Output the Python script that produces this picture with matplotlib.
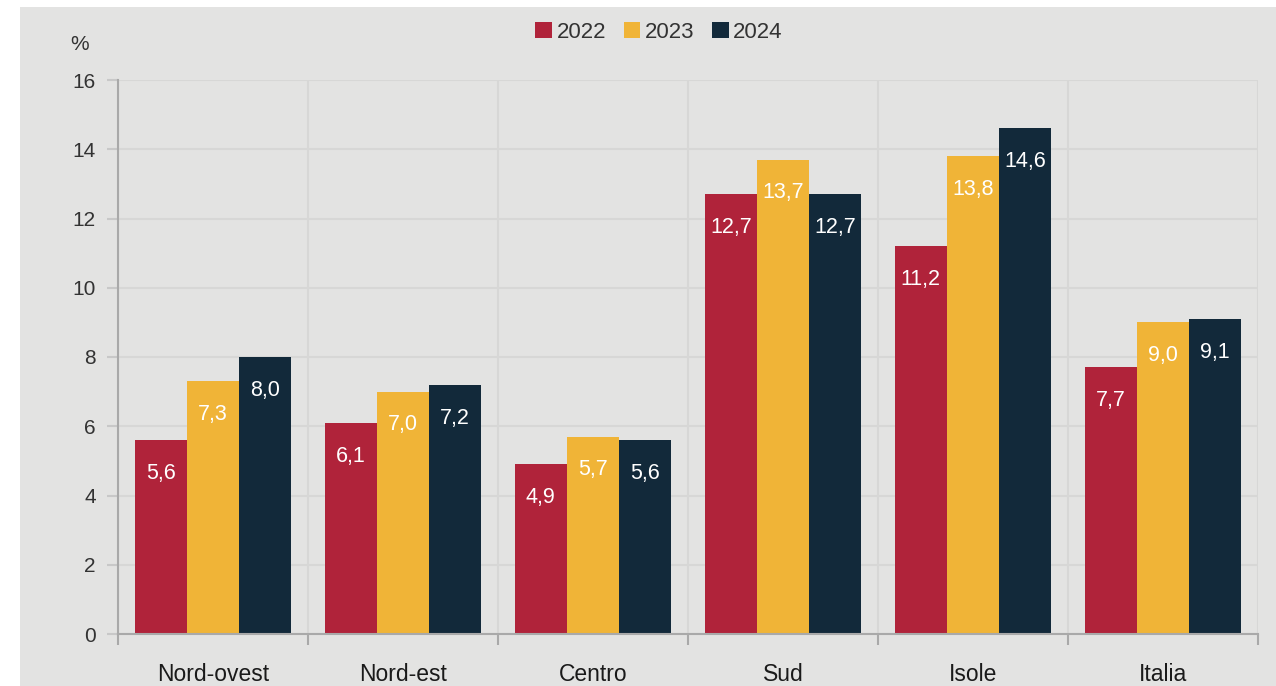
import matplotlib
matplotlib.use("Agg")
import matplotlib.pyplot as plt
import numpy as np
from matplotlib.patches import Rectangle

plt.rcParams['font.family'] = ['Liberation Sans', 'DejaVu Sans']

categories = ["Nord-ovest", "Nord-est", "Centro", "Sud", "Isole", "Italia"]
years = ["2022", "2023", "2024"]
v2022 = [5.6, 6.1, 4.9, 12.7, 11.2, 7.7]
v2023 = [7.3, 7.0, 5.7, 13.7, 13.8, 9.0]
v2024 = [8.0, 7.2, 5.6, 12.7, 14.6, 9.1]
series = [v2022, v2023, v2024]
colors = ["#b0233a", "#f0b437", "#12293a"]
yticks = [0, 2, 4, 6, 8, 10, 12, 14, 16]

W, H = 1276, 686
fig = plt.figure(figsize=(W / 100, H / 100), dpi=100, facecolor="white")
bg = Rectangle((20 / W, 0), 1 - 20 / W, 1 - 7 / H, transform=fig.transFigure,
               facecolor="#e3e3e2", edgecolor="none", zorder=-10)
fig.add_artist(bg)
ax = fig.add_axes([118 / W, 1 - 634 / H, (1258 - 118) / W, (634 - 80) / H])
ax.set_facecolor("#e3e3e2")

x = np.arange(len(categories))
bw = 0.275
for i, (vals, c) in enumerate(zip(series, colors)):
    pos = x + (i - 1) * bw
    bars = ax.bar(pos, vals, width=bw, color=c, edgecolor="none", zorder=3, label=years[i])
    for b, v in zip(bars, vals):
        ax.annotate(f"{v:.1f}".replace(".", ","), (b.get_x() + b.get_width() / 2, v),
                    xytext=(0, -24), textcoords="offset points", ha="center", va="center",
                    color="white", fontsize=15.5, zorder=4)

ax.set_xlim(-0.5, len(categories) - 0.5)
ax.set_ylim(0, 16)
ax.set_yticks(yticks)
ax.set_yticklabels([str(t) for t in yticks])
ax.set_xticks(x)
ax.set_xticklabels(categories)
ax.set_xticks(np.arange(len(categories) + 1) - 0.5, minor=True)

ax.grid(axis="y", color="#d7d7d6", linewidth=1.5, zorder=1)
ax.grid(axis="x", which="minor", color="#d7d7d6", linewidth=1.5, zorder=1)
ax.grid(axis="x", which="major", visible=False)
ax.set_axisbelow(True)

for s in ["top", "right"]:
    ax.spines[s].set_visible(False)
for s in ["left", "bottom"]:
    ax.spines[s].set_color("#a9a9a9")
    ax.spines[s].set_linewidth(1.5)
    ax.spines[s].set_zorder(5)

ax.tick_params(axis="y", length=8, width=1.5, color="#c8c8c8", pad=8, labelsize=15, labelcolor="#333333")
ax.tick_params(axis="x", which="major", length=0, pad=21, labelsize=16.5, labelcolor="#1a1a1a")
ax.tick_params(axis="x", which="minor", length=8, width=1.5, color="#a9a9a9")

fig.text(80 / W, 1 - 45 / H, "%", ha="center", va="center", fontsize=15, color="#333333")

leg = ax.legend(loc="center", bbox_to_anchor=(659 / W, 1 - 32 / H), bbox_transform=fig.transFigure,
                ncol=3, frameon=False, fontsize=16, handlelength=0.75, handleheight=0.75,
                handletextpad=0.2, columnspacing=0.8, labelcolor="#333333")

fig.savefig("out.png", dpi=100, facecolor="white")
